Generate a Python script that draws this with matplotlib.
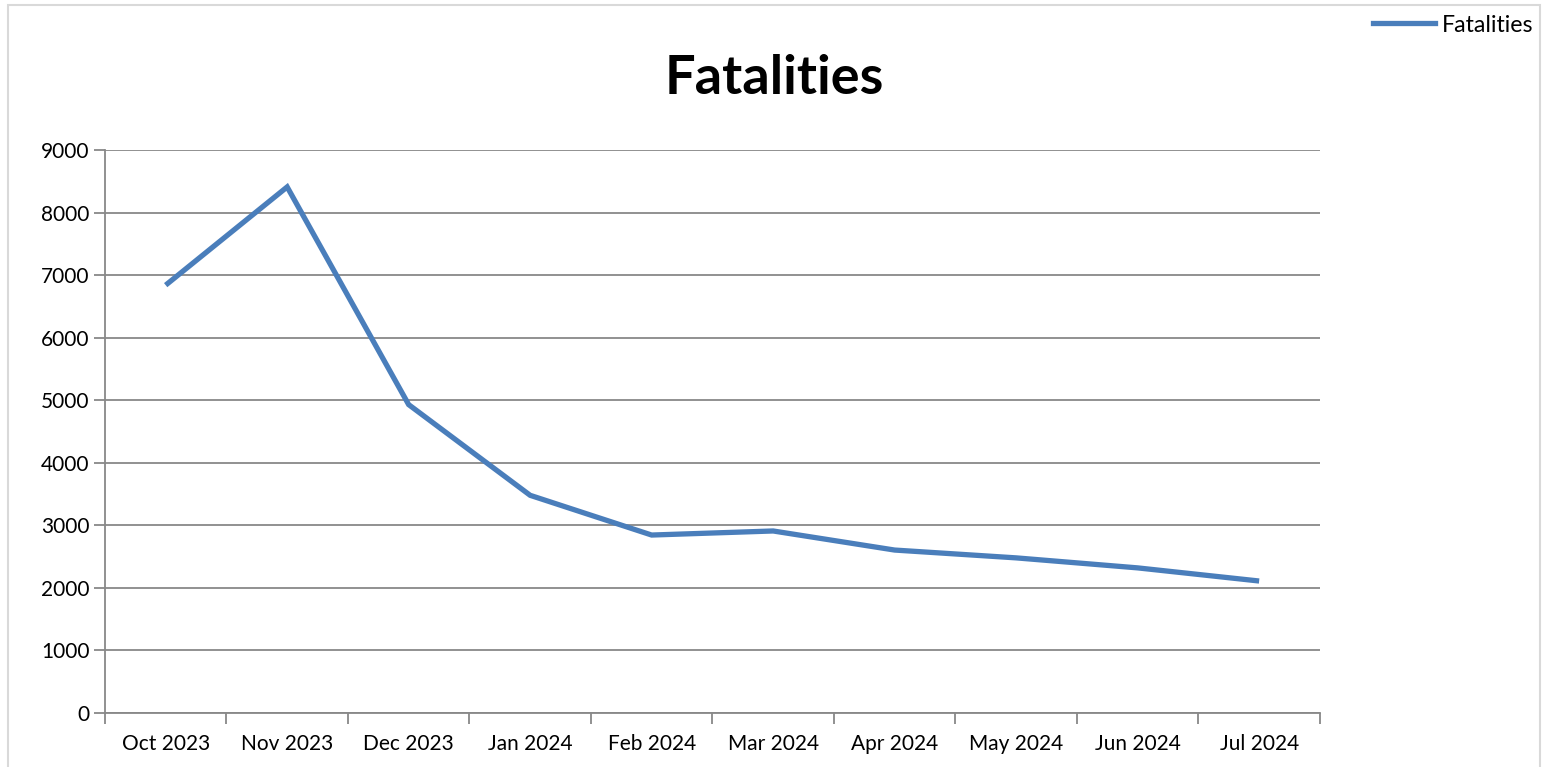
import matplotlib.pyplot as plt
from matplotlib.lines import Line2D

months = ["Oct 2023", "Nov 2023", "Dec 2023", "Jan 2024", "Feb 2024",
          "Mar 2024", "Apr 2024", "May 2024", "Jun 2024", "Jul 2024"]
fatalities = [6840, 8410, 4930, 3480, 2845, 2910, 2605, 2480, 2320, 2110]

plt.rcParams['font.family'] = ['Lato', 'DejaVu Sans']

fig = plt.figure(figsize=(15.43, 7.67), dpi=100)
ax = fig.add_axes([0.068, 0.0704, 0.7874, 0.734])

x = list(range(len(months)))
ax.plot(x, fatalities, color="#4a7ebb", linewidth=3.8, label="Fatalities",
        solid_joinstyle="miter", solid_capstyle="butt")

ax.set_xlim(-0.5, len(months) - 0.5)
ax.set_ylim(0, 9000)
ax.set_yticks(range(0, 9001, 1000))
ax.set_xticks(x)
ax.set_xticklabels(months, fontsize=15)
ax.set_xticks([i - 0.5 for i in range(len(months) + 1)], minor=True)
ax.tick_params(axis="x", which="major", length=0, pad=15)
ax.tick_params(axis="x", which="minor", length=8, color="#888888", width=1.3)
ax.tick_params(axis="y", length=8, color="#888888", width=1.3, labelsize=15, pad=3)

ax.grid(axis="y", color="#888888", linewidth=1.3)
ax.set_axisbelow(True)
for s in ["top", "right"]:
    ax.spines[s].set_visible(False)
for s in ["left", "bottom"]:
    ax.spines[s].set_color("#888888")
    ax.spines[s].set_linewidth(1.3)

fig.text(0.502, 0.898, "Fatalities", fontsize=39, fontweight="bold",
         ha="center", va="center")

fig.legend(handles=[Line2D([0], [0], color="#4a7ebb", linewidth=3.8)],
           labels=["Fatalities"], loc="upper right", bbox_to_anchor=(0.994, 0.981),
           frameon=False, fontsize=16.7, handlelength=2.7, handletextpad=0.3,
           borderpad=0, borderaxespad=0)

# faint page border
fig.add_artist(plt.Rectangle((8 / 1543, -0.1), 1532 / 1543, 1.1 - 5 / 767,
                             transform=fig.transFigure, fill=False,
                             edgecolor="#d9d9d9", linewidth=1.5))

fig.savefig("out.png", dpi=100)
